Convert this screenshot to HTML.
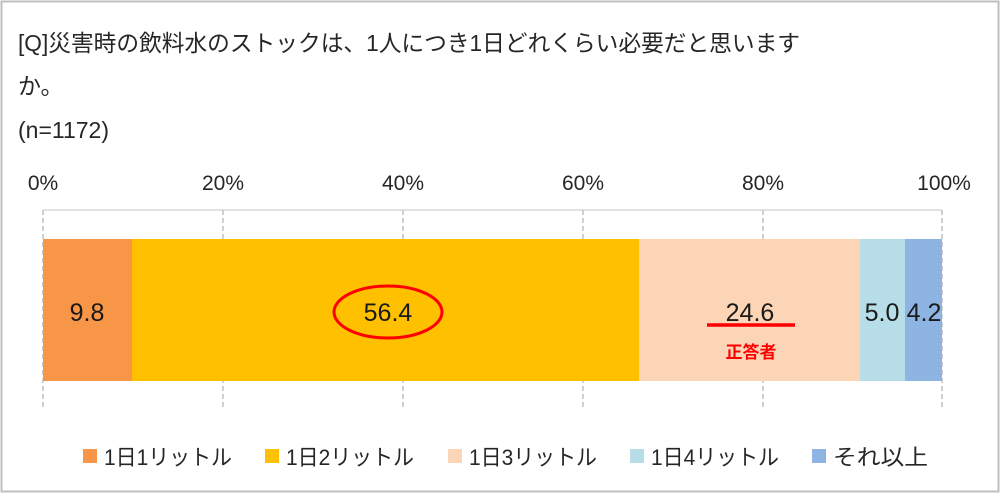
<!DOCTYPE html>
<html><head><meta charset="utf-8"><style>
body{margin:0;width:1000px;height:494px;background:#fff;overflow:hidden;font-family:"Liberation Sans","Noto Sans CJK JP",sans-serif;}
</style></head><body>
<svg width="1000" height="494" xmlns="http://www.w3.org/2000/svg" font-family="Liberation Sans, Noto Sans CJK JP, sans-serif">
<rect x="1.5" y="1.5" width="997" height="490" fill="#fff" stroke="#bfbfbf" stroke-width="2"/>
<text x="18" y="51" font-size="23" fill="#262626" textLength="782" lengthAdjust="spacingAndGlyphs">[Q]災害時の飲料水のストックは、1人につき1日どれくらい必要だと思います</text>
<text x="18" y="94" font-size="23" fill="#262626">か。</text>
<text x="18" y="138" font-size="23" fill="#262626">(n=1172)</text>
<g font-size="21" fill="#262626" text-anchor="middle">
<text x="43" y="190">0%</text><text x="223" y="190">20%</text><text x="403" y="190">40%</text><text x="583" y="190">60%</text><text x="763" y="190">80%</text><text x="944" y="190">100%</text>
</g>
<line x1="43" y1="210" x2="942" y2="210" stroke="#d9d9d9" stroke-width="1.5"/>
<g stroke="#bfbfbf" stroke-width="1.5" stroke-dasharray="5,3">
<line x1="43" y1="210" x2="43" y2="410"/><line x1="223" y1="210" x2="223" y2="410"/><line x1="403" y1="210" x2="403" y2="410"/><line x1="583" y1="210" x2="583" y2="410"/><line x1="763" y1="210" x2="763" y2="410"/><line x1="942" y1="210" x2="942" y2="410"/>
</g>
<rect x="43" y="239" width="89" height="142" fill="#f79646"/>
<rect x="132" y="239" width="507" height="142" fill="#ffc000"/>
<rect x="639" y="239" width="221" height="142" fill="#fbd5b5"/>
<rect x="860" y="239" width="45" height="142" fill="#b7dee8"/>
<rect x="905" y="239" width="37" height="142" fill="#8eb4e3"/>
<g font-size="25" fill="#1a1a1a" text-anchor="middle">
<text x="87" y="321">9.8</text><text x="388" y="321">56.4</text><text x="750" y="321">24.6</text><text x="882" y="321">5.0</text><text x="924" y="321">4.2</text>
</g>
<ellipse cx="388" cy="312" rx="54" ry="26" fill="none" stroke="#ff0000" stroke-width="3"/>
<line x1="707" y1="325" x2="795" y2="325" stroke="#ff0000" stroke-width="3.5"/>
<text x="751" y="358" font-size="17" font-weight="bold" fill="#ff0000" text-anchor="middle">正答者</text>
<g font-size="22" fill="#262626">
<rect x="83" y="449" width="14" height="14" fill="#f79646"/><text x="104" y="465" textLength="128" lengthAdjust="spacingAndGlyphs">1日1リットル</text>
<rect x="265" y="449" width="14" height="14" fill="#ffc000"/><text x="286" y="465" textLength="128" lengthAdjust="spacingAndGlyphs">1日2リットル</text>
<rect x="448" y="449" width="14" height="14" fill="#fbd5b5"/><text x="469" y="465" textLength="128" lengthAdjust="spacingAndGlyphs">1日3リットル</text>
<rect x="630" y="449" width="14" height="14" fill="#b7dee8"/><text x="651" y="465" textLength="128" lengthAdjust="spacingAndGlyphs">1日4リットル</text>
<rect x="812" y="449" width="14" height="14" fill="#8eb4e3"/><text x="833" y="465" textLength="95" lengthAdjust="spacingAndGlyphs">それ以上</text>
</g>
</svg>
</body></html>
